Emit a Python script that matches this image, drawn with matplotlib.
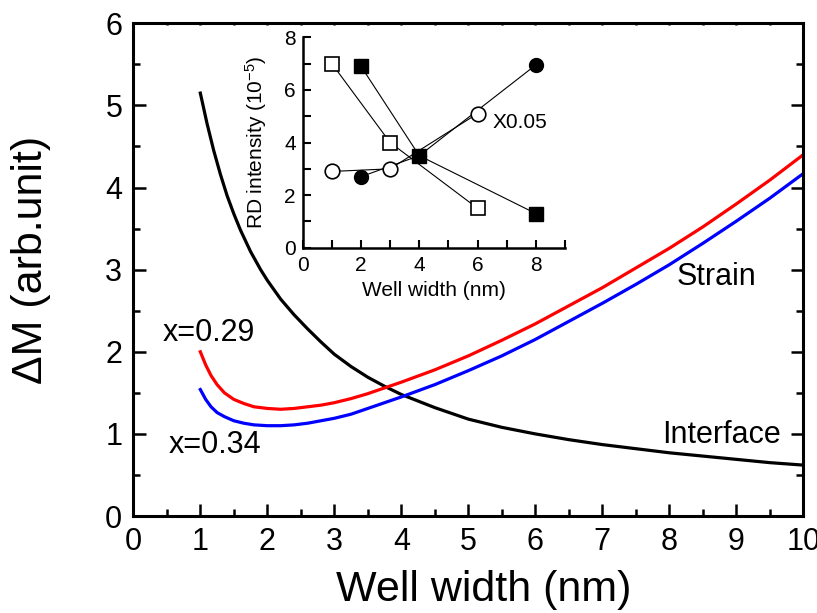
import matplotlib as mpl
mpl.use('Agg')
import matplotlib.pyplot as plt
from matplotlib.ticker import MultipleLocator

plt.rcParams['font.family'] = ['Liberation Sans', 'DejaVu Sans']
plt.rcParams['mathtext.fontset'] = 'custom'
plt.rcParams['mathtext.rm'] = 'Liberation Sans'
plt.rcParams['mathtext.it'] = 'Liberation Sans'

# interface term (black)
w_int = [1.0, 1.1, 1.2, 1.3, 1.4, 1.5, 1.6, 1.75, 1.9, 2.0, 2.2, 2.4, 2.6, 2.8,
         3.0, 3.25, 3.5, 3.75, 4.0, 4.5, 5.0, 5.5, 6.0, 6.5, 7.0, 7.5, 8.0,
         8.5, 9.0, 9.5, 10.0]
m_int = [5.15, 4.78, 4.45, 4.16, 3.90, 3.68, 3.48, 3.22, 3.00, 2.87, 2.64, 2.45,
         2.28, 2.12, 1.97, 1.82, 1.69, 1.58, 1.48, 1.32, 1.18, 1.08, 1.00, 0.93,
         0.87, 0.82, 0.77, 0.73, 0.69, 0.65, 0.62]

# strain term, x=0.29 (red)
w_029 = [1.0, 1.08, 1.16, 1.25, 1.36, 1.5, 1.65, 1.8, 2.0, 2.2, 2.4, 2.6, 2.8,
         3.0, 3.25, 3.5, 3.75, 4.0, 4.5, 5.0, 5.5, 6.0, 6.5, 7.0, 7.5, 8.0,
         8.5, 9.0, 9.5, 10.0]
m_029 = [2.00, 1.84, 1.71, 1.60, 1.50, 1.42, 1.37, 1.33, 1.31, 1.30, 1.31, 1.33,
         1.35, 1.38, 1.43, 1.49, 1.56, 1.63, 1.78, 1.95, 2.14, 2.34, 2.56, 2.78,
         3.02, 3.26, 3.52, 3.80, 4.09, 4.40]

# strain term, x=0.34 (blue)
w_034 = w_029
m_034 = [1.54, 1.42, 1.33, 1.26, 1.21, 1.16, 1.13, 1.11, 1.10, 1.10, 1.11, 1.13,
         1.16, 1.19, 1.24, 1.31, 1.38, 1.45, 1.60, 1.77, 1.95, 2.15, 2.37, 2.59,
         2.82, 3.06, 3.32, 3.59, 3.87, 4.17]

# inset: measured RD intensity
w_open_sq = [1, 3, 6]
rd_open_sq = [7.0, 4.0, 1.5]
w_fill_sq = [2, 4, 8]
rd_fill_sq = [6.9, 3.5, 1.3]
w_open_ci = [1, 3, 6]
rd_open_ci = [2.9, 3.0, 5.1]
w_fill_ci = [2, 4, 8]
rd_fill_ci = [2.7, 3.5, 6.95]

fig = plt.figure(figsize=(8.17, 6.13), dpi=100)
ax = fig.add_axes([0.1632, 0.1582, 0.820, 0.8038])

ax.plot(w_int, m_int, color='black', lw=2.3)
ax.plot(w_029, m_029, color='#ff0000', lw=2.3)
ax.plot(w_034, m_034, color='#0000ff', lw=2.3)

ax.set_xlim(0, 10)
ax.set_ylim(0, 6)
ax.xaxis.set_major_locator(MultipleLocator(1))
ax.xaxis.set_minor_locator(MultipleLocator(0.5))
ax.yaxis.set_major_locator(MultipleLocator(1))
ax.yaxis.set_minor_locator(MultipleLocator(0.5))
for s in ax.spines.values():
    s.set_linewidth(2.2)
ax.tick_params(which='both', direction='in', width=1.8, labelsize=22)
ax.tick_params(axis='x', which='major', length=9, pad=8, top=True)
ax.tick_params(axis='x', which='minor', length=5, top=True)
ax.tick_params(axis='y', which='major', length=9, pad=8, right=True)
ax.tick_params(axis='y', which='minor', length=5, right=True)
ax.xaxis.set_tick_params(which='both', labeltop=False)
for t in ax.xaxis.get_major_ticks() + ax.xaxis.get_minor_ticks():
    t.tick2line.set_markersize(1.5)

ax.set_xlabel('Well width (nm)', fontsize=31)
ax.xaxis.set_label_coords(0.523, -0.110)
ax.set_ylabel('\u0394M (arb.unit)', fontsize=31)
ax.yaxis.set_label_coords(-0.123, 0.52)

ax.text(1.12, 2.23, 'x=0.29', fontsize=22, ha='center', va='center')
ax.text(1.22, 0.86, 'x=0.34', fontsize=22, ha='center', va='center')
ax.text(8.71, 2.91, 'Strain', fontsize=22, ha='center', va='center')
ax.text(9.66, 0.99, 'Interface', fontsize=22, ha='right', va='center')

# inset
ins = fig.add_axes([0.3705, 0.5959, 0.321, 0.3432])
ins.plot(w_fill_ci, rd_fill_ci, '-o', color='black', lw=0.8, ms=10,
         mfc='black', mec='black')
ins.plot(w_open_ci, rd_open_ci, '-o', color='black', lw=0.8, ms=10.5,
         mfc='white', mec='black', mew=1.2)
ins.plot(w_open_sq, rd_open_sq, '-s', color='black', lw=0.8, ms=9.5,
         mfc='white', mec='black', mew=1.2)
ins.plot(w_fill_sq, rd_fill_sq, '-s', color='black', lw=0.8, ms=10,
         mfc='black', mec='black')
ins.text(6.5, 4.78, 'X0.05', fontsize=15, ha='left', va='center')

ins.set_xlim(0, 9)
ins.set_ylim(0, 8)
ins.xaxis.set_major_locator(MultipleLocator(2))
ins.xaxis.set_minor_locator(MultipleLocator(1))
ins.yaxis.set_major_locator(MultipleLocator(2))
ins.yaxis.set_minor_locator(MultipleLocator(1))
ins.spines['top'].set_visible(False)
ins.spines['right'].set_visible(False)
ins.spines['left'].set_linewidth(1.8)
ins.spines['bottom'].set_linewidth(1.8)
ins.patch.set_alpha(0)
ins.tick_params(which='both', direction='in', length=5.5, width=1.5, labelsize=15)
ins.tick_params(axis='x', pad=6)
ins.tick_params(axis='y', pad=5)
ins.set_xlabel('Well width (nm)', fontsize=15, labelpad=4)
ins.set_ylabel('RD intensity (10$^{-5}$)', fontsize=15)
ins.yaxis.set_label_coords(-0.13, 0.5)

fig.savefig('out.png', dpi=100)
